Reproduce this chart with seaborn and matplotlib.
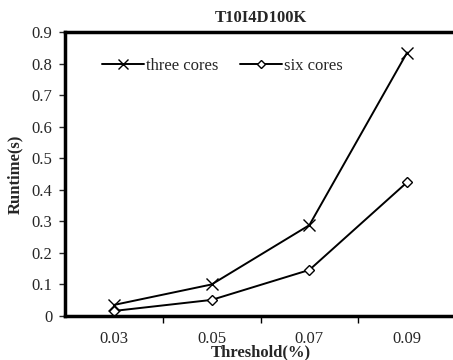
import matplotlib
matplotlib.use("Agg")
import matplotlib.pyplot as plt
import seaborn as sns
import pandas as pd

thresholds = ["0.03", "0.05", "0.07", "0.09"]
three_cores = [0.035, 0.100, 0.288, 0.835]
six_cores = [0.016, 0.051, 0.146, 0.424]
series_names = ["three cores", "six cores"]
series_markers = ["x", "D"]

sns.set_style("ticks")
plt.rcParams["font.family"] = ["Liberation Serif", "DejaVu Serif"]

fig = plt.figure(figsize=(4.53, 3.60), dpi=100)
ax = fig.add_axes([65 / 453, 1 - 316 / 360, (456 - 65) / 453, (316 - 32) / 360])

for name, vals, mk in zip(series_names, [three_cores, six_cores], series_markers):
    d = pd.DataFrame({"pos": list(range(len(thresholds))), "Runtime": vals})
    if mk == "x":
        sns.lineplot(data=d, x="pos", y="Runtime", ax=ax, color="black", linewidth=1.4,
                     marker="x", markersize=9, markeredgewidth=1.0,
                     markeredgecolor="black", label=name)
    else:
        sns.lineplot(data=d, x="pos", y="Runtime", ax=ax, color="black", linewidth=1.4,
                     marker="D", markersize=5, markeredgewidth=1.0,
                     markerfacecolor="white", markeredgecolor="black", label=name)

ax.set_xlim(-0.5, 3.5)
ax.set_ylim(0, 0.9)
ax.set_yticks([0, 0.1, 0.2, 0.3, 0.4, 0.5, 0.6, 0.7, 0.8, 0.9])
ax.set_yticklabels(["0", "0.1", "0.2", "0.3", "0.4", "0.5", "0.6", "0.7", "0.8", "0.9"])
ax.set_xticks([0, 1, 2, 3])
ax.set_xticklabels(thresholds)
ax.tick_params(axis="x", which="major", length=0, pad=11, labelsize=12)
ax.set_xticks([0.5, 1.5, 2.5], minor=True)
ax.tick_params(axis="x", which="minor", length=5, width=1, direction="out", color="black")
ax.tick_params(axis="y", length=4, width=1, direction="out", labelsize=12, pad=5)

for side in ["left", "bottom", "top", "right"]:
    ax.spines[side].set_visible(True)
    ax.spines[side].set_color("black")
    ax.spines[side].set_linewidth(2.5)

ax.set_title("T10I4D100K", fontsize=12, fontweight="bold", pad=7)
ax.set_xlabel("Threshold(%)", fontsize=12, fontweight="bold", labelpad=-2)
ax.set_ylabel("Runtime(s)", fontsize=12, fontweight="bold", labelpad=6)

leg = ax.legend(loc="upper left", bbox_to_anchor=(37 / 391, (316 - 58) / 284), ncol=2,
                frameon=False, borderpad=0, borderaxespad=0,
                fontsize=12, handlelength=2.5, handletextpad=0.15, columnspacing=1.3,
                markerscale=0.8)

fig.savefig("out.png", dpi=100)
